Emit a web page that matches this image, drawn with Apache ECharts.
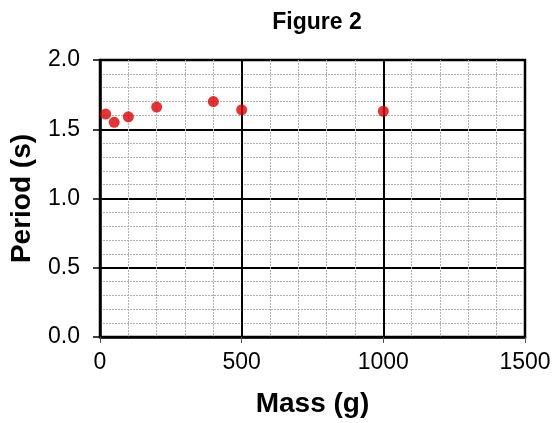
<!DOCTYPE html>
<html>
<head>
<meta charset="utf-8">
<script src="https://cdn.jsdelivr.net/npm/echarts@6/dist/echarts.min.js"></script>
<style>
  html, body { margin: 0; padding: 0; background: #fff; }
  #chart { width: 554px; height: 423px; }
</style>
</head>
<body>
<div id="chart"></div>
<script>
// data
var masses = [20, 50, 100, 200, 400, 500, 1000];
var periods = [1.61, 1.55, 1.59, 1.66, 1.70, 1.64, 1.63];
var xTicks = [0, 500, 1000, 1500];
var yTicks = [0.0, 0.5, 1.0, 1.5, 2.0];

var points = masses.map(function (m, i) { return [m, periods[i]]; });

var font = '"Liberation Sans", Arial, Helvetica, sans-serif';

var myChart = echarts.init(document.getElementById('chart'));

var option = {
    animation: false,
    backgroundColor: '#fff',
    title: {
        text: 'Figure 2',
        left: 312,
        textAlign: 'center',
        top: 6,
        textStyle: { fontFamily: font, fontWeight: 'bold', fontSize: 23, color: '#000' }
    },
    grid: {
        left: 100, right: 29, top: 60, bottom: 81,
        show: true,
        borderColor: '#000',
        borderWidth: 2.5
    },
    xAxis: {
        type: 'value',
        min: xTicks[0],
        max: xTicks[xTicks.length - 1],
        interval: 500,
        name: 'Mass (g)',
        nameLocation: 'middle',
        nameGap: 53,
        nameTextStyle: { fontFamily: font, fontWeight: 'bold', fontSize: 28, color: '#000' },
        axisLine: { show: true, lineStyle: { color: '#000', width: 2.5 } },
        axisTick: { show: true, length: 6, lineStyle: { color: '#555', width: 1 } },
        axisLabel: {
            margin: 14, fontFamily: font, fontSize: 23, color: '#000',
            formatter: function (v) { return String(v); }
        },
        splitLine: { show: true, lineStyle: { color: '#000', width: 2 } },
        minorTick: { show: false, splitNumber: 5 },
        minorSplitLine: { show: true, lineStyle: { color: '#b0b0b0', width: 1, type: [2, 1] } }
    },
    yAxis: {
        type: 'value',
        min: yTicks[0],
        max: yTicks[yTicks.length - 1],
        interval: 0.5,
        name: 'Period (s)',
        nameLocation: 'middle',
        nameGap: 64,
        nameTextStyle: { fontFamily: font, fontWeight: 'bold', fontSize: 28, color: '#000' },
        axisLine: { show: true, lineStyle: { color: '#000', width: 2.5 } },
        axisTick: { show: true, length: 7, lineStyle: { color: '#000', width: 1.5 } },
        axisLabel: {
            margin: 20, fontFamily: font, fontSize: 23, color: '#000',
            formatter: function (v) { return v.toFixed(1); }
        },
        splitLine: { show: true, lineStyle: { color: '#000', width: 2 } },
        minorTick: { show: false, splitNumber: 5 },
        minorSplitLine: { show: true, lineStyle: { color: '#b0b0b0', width: 1, type: [2, 1] } }
    },
    series: [{
        type: 'scatter',
        data: points,
        symbol: 'circle',
        symbolSize: 11,
        itemStyle: { color: '#e00000' },
        z: 5
    }]
};

myChart.setOption(option);
</script>
</body>
</html>
